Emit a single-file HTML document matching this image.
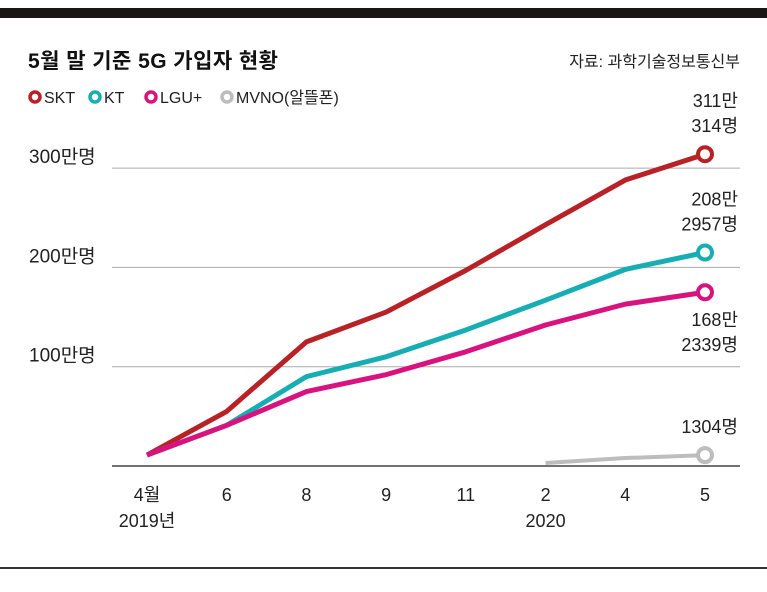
<!DOCTYPE html>
<html><head><meta charset="utf-8"><style>
html,body{margin:0;padding:0;background:#fff;}
body{width:767px;height:587px;overflow:hidden;font-family:"Liberation Sans","Noto Sans CJK KR",sans-serif;}
</style></head><body>
<svg id="chart" width="767" height="587" xmlns="http://www.w3.org/2000/svg" font-family="Liberation Sans, Noto Sans CJK KR, sans-serif">
<rect x="0" y="8" width="767" height="10" fill="#1a1616"/>
<rect x="0" y="567" width="767" height="2" fill="#333"/>
<text x="28" y="68" font-size="21" font-weight="bold" fill="#111" textLength="250">5월 말 기준 5G 가입자 현황</text>
<text x="740" y="67" font-size="16" fill="#222" text-anchor="end">자료: 과학기술정보통신부</text>
<g id="legend"></g>
<g id="grid"></g><g id="series"></g><g id="labels"></g>
</svg>
<script>
const categories=["4월","6","8","9","11","2","4","5"];
const yearLabels=["2019년","","","","","2020","",""];
const skt=[11,55,125,155,197,243,288,314];
const kt=[11,41,90,110,137,167,198,215];
const lgu=[11,41,75,92,115,142,163,175];
const mvno=[null,null,null,null,null,3,8,11];
const yTicks=[100,200,300];
const yTickLabels=["100만명","200만명","300만명"];
const seriesNames=["SKT","KT","LGU+","MVNO(알뜰폰)"];
const seriesColors=["#b82126","#16aeb3","#d8137f","#bdbdbd"];
const endLabels=[["311만","314명"],["208만","2957명"],["168만","2339명"],["1304명"]];
const NS="http://www.w3.org/2000/svg";
function x(i){return 147+i*(705-147)/(categories.length-1);}
function y(v){return 466-v*0.993;}
function mk(tag,attrs,parent,txt){const e=document.createElementNS(NS,tag);for(const k in attrs)e.setAttribute(k,attrs[k]);if(txt!==undefined)e.textContent=txt;parent.appendChild(e);return e;}
const grid=document.getElementById('grid'),ser=document.getElementById('series'),lab=document.getElementById('labels'),leg=document.getElementById('legend');
yTicks.forEach((t,i)=>{
  const l=mk('line',{x1:112,x2:740,y1:y(t),y2:y(t),stroke:'#aaa','stroke-width':1},grid);
  
  
  const tx=mk('text',{x:29,y:y(t)-5,'font-size':19,fill:'#222'},grid,yTickLabels[i]);
  
  
});
const ax=mk('line',{x1:112,x2:740,y1:466,y2:466,stroke:'#444','stroke-width':1.5},grid);


categories.forEach((c,i)=>{
  const t=mk('text',{x:x(i),y:501,'font-size':18,fill:'#222','text-anchor':'middle'},grid,c);
  
  
  if(yearLabels[i]){const t2=mk('text',{x:x(i),y:527,'font-size':18,fill:'#222','text-anchor':'middle'},grid,yearLabels[i]);
  
  }
});
const all=[skt,kt,lgu,mvno];
const names=['skt','kt','lgu','mvno'];
all.forEach((d,s)=>{
  const pts=[];d.forEach((v,i)=>{if(v!==null)pts.push(x(i)+','+y(v));});
  const p=mk('polyline',{points:pts.join(' '),fill:'none',stroke:seriesColors[s],'stroke-width':s==3?4:5,'stroke-linejoin':'round'},ser);
  
  
  const li=d.length-1;
  const c=mk('circle',{cx:x(li),cy:y(d[li]),r:7,fill:'#fff',stroke:seriesColors[s],'stroke-width':4},ser);
  
  
  const lines=endLabels[s];
  const baseY = s==2 ? y(d[li])+34 : y(d[li])-22-(lines.length-1)*25;
  lines.forEach((ln,k)=>{
    const t=mk('text',{x:738,y:baseY+k*25,'font-size':18,fill:'#222','text-anchor':'end'},lab,ln);
    
    
  });
});
let lx=29;
seriesNames.forEach((n,i)=>{
  const c=mk('circle',{cx:lx+6,cy:97,r:5,fill:'#fff',stroke:seriesColors[i],'stroke-width':3.5},leg);
  
  
  const t=mk('text',{x:lx+15,y:103,'font-size':16,fill:'#222'},leg,n);
  
  
  lx+=[60,56,76,0][i];
});
</script>
</body></html>
